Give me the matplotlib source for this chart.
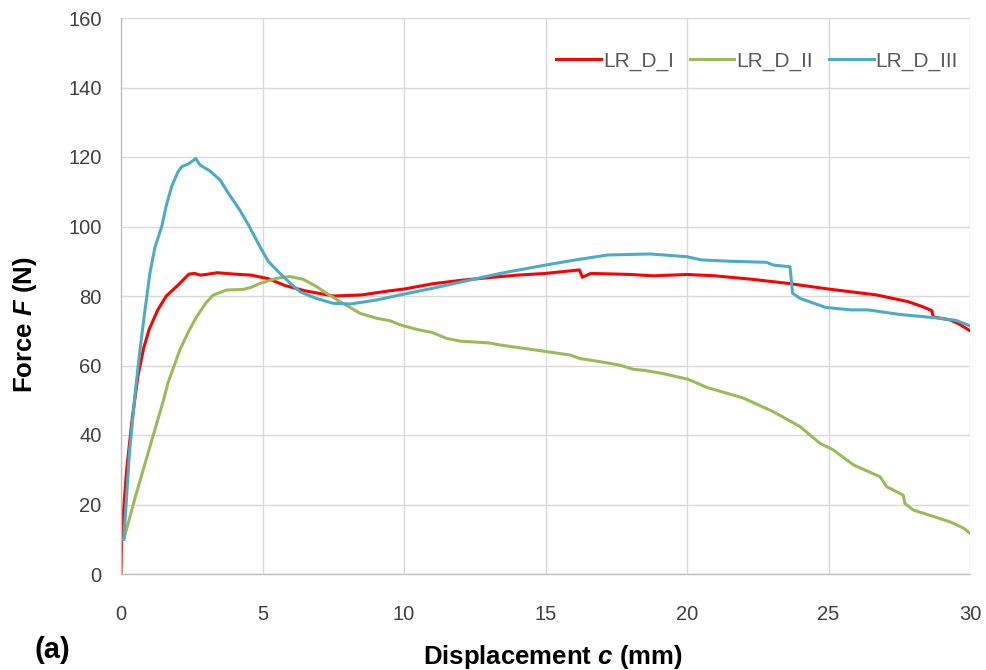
import matplotlib
matplotlib.use("Agg")
from matplotlib import pyplot as plt

# LR_D_I (red)
c_1 = [0, 0.02, 0.05, 0.2, 0.4, 0.6, 0.8, 1.0, 1.3, 1.6, 2.0, 2.4, 2.6, 2.8, 3.0, 3.4, 4.0,
       4.6, 5.2, 5.8, 6.5, 7.5, 8.5, 9.5, 10, 11, 12, 13, 14, 15, 16.2, 16.3, 16.6, 18,
       18.8, 20, 21, 22.3, 23.6, 25, 26, 26.7, 27.8, 28.3, 28.65, 28.7, 29.3, 29.6, 30]
f_1 = [0, 10, 14, 30, 45, 57, 65, 70.5, 76, 80, 83, 86.3, 86.5, 86, 86.2, 86.7, 86.3,
       86, 85, 83, 81.5, 80, 80.3, 81.5, 82, 83.5, 84.5, 85.3, 86, 86.5, 87.5, 85.4, 86.5, 86.2,
       85.8, 86.2, 85.8, 84.8, 83.6, 82, 81, 80.3, 78.4, 77, 75.8, 74, 73.1, 72, 70]

# LR_D_II (green)
c_2 = [0.1, 0.5, 1.0, 1.5, 1.66, 2.08, 2.4, 2.67, 3.0, 3.26, 3.73, 4.32, 4.6, 4.91, 5.5,
       5.97, 6.44, 6.91, 7.3, 7.74, 8.45, 9.03, 9.5, 9.86, 10.5, 11, 11.5, 12, 13, 13.4,
       15.04, 15.87, 16.22, 16.93, 17.63, 18.1, 18.5, 19.2, 20.05, 20.7, 22, 23.05, 24,
       24.7, 25.17, 25.88, 26.82, 27.06, 27.64, 27.7, 28, 29.3, 29.77, 30]
f_2 = [10, 22, 36, 50, 55, 64.5, 70, 74, 78, 80.3, 81.7, 81.9, 82.5, 83.6, 85.1,
       85.6, 84.8, 82.7, 80.6, 78.4, 75, 73.6, 72.9, 71.7, 70.3, 69.5, 67.8, 67, 66.5, 65.9,
       64, 63, 62, 61.1, 60.1, 58.9, 58.6, 57.6, 56, 53.7, 50.6, 46.7, 42.4,
       37.6, 35.7, 31.4, 28, 25.1, 22.7, 20.3, 18.4, 15, 13.2, 11.7]

# LR_D_III (blue)
c_3 = [0.1, 0.3, 0.5, 0.67, 0.85, 1.02, 1.2, 1.44, 1.6, 1.79, 2.0, 2.14, 2.38, 2.55, 2.64,
       2.79, 3.14, 3.5, 3.8, 4.2, 4.5, 4.91, 5.2, 5.62, 6.0, 6.33, 6.9, 7.5, 8.1, 9, 9.86,
       11, 12, 13.4, 15, 16, 17.2, 18.7, 20, 20.5, 21.5, 22.8, 23.05, 23.64, 23.73, 24,
       24.9, 25.8, 26.4, 27.5, 28.7, 29.5, 30]
f_3 = [10, 35, 52, 64.5, 76, 86.5, 94, 100, 106, 111.5, 115.5, 117.2, 118, 119, 119.6,
       117.7, 116, 113.4, 109.5, 104.7, 100.5, 94.2, 90, 86.5, 83.5, 81.2, 79.3, 77.9, 77.7, 78.8, 80.3,
       82.2, 84, 86.5, 88.9, 90.3, 91.8, 92.1, 91.3, 90.4, 90, 89.7, 88.9, 88.4, 80.8, 79.3,
       76.7, 76, 76, 74.7, 73.8, 73, 71.4]

labels = ["LR_D_I", "LR_D_II", "LR_D_III"]
colors = ["#FF0000", "#9BBB59", "#4BACC6"]

plt.rcParams["font.family"] = ["Liberation Sans", "DejaVu Sans"]
plt.rcParams["mathtext.fontset"] = "custom"
plt.rcParams["mathtext.it"] = "Liberation Sans:italic:bold"

fig = plt.figure(figsize=(9.86, 6.7), dpi=100)
ax = fig.add_axes([121 / 986, 1 - 574 / 670, (970 - 121) / 986, (574 - 18) / 670])

for xs, ys, lab, col in zip([c_1, c_2, c_3], [f_1, f_2, f_3], labels, colors):
    ax.plot(xs, ys, color=col, lw=2.2, label=lab, solid_joinstyle="round")

ax.set_xlim(0, 30)
ax.set_ylim(0, 160)
ax.set_xticks(range(0, 31, 5))
ax.set_yticks(range(0, 161, 20))
ax.grid(True, color="#D9D9D9", lw=1.0)
ax.set_axisbelow(True)
for s in ["top", "right"]:
    ax.spines[s].set_visible(False)
for s in ["left", "bottom"]:
    ax.spines[s].set_color("#BFBFBF")
    ax.spines[s].set_linewidth(1.0)
ax.tick_params(length=0, colors="#404040", labelsize=14.5)
ax.tick_params(axis="x", pad=22)
ax.tick_params(axis="y", pad=14)

fig.text(25 / 986, 1 - 325 / 670, r"Force $F$ (N)", fontsize=18.5, fontweight="bold",
         rotation=90, ha="center", va="center")
fig.text(553 / 986, 1 - 657 / 670, r"Displacement $c$ (mm)", fontsize=18.5,
         fontweight="bold", ha="center", va="center")
fig.text(35 / 986, 1 - 650 / 670, "(a)", fontsize=21, fontweight="bold",
         ha="left", va="center")

leg = ax.legend(loc="center right", bbox_to_anchor=((958 - 121) / 849, (574 - 61) / 556),
                ncol=3, frameon=False, fontsize=15, handlelength=2.15, handletextpad=0.1,
                columnspacing=0.75, borderpad=0, borderaxespad=0)
for t in leg.get_texts():
    t.set_color("#595959")

fig.savefig("out.png", dpi=100)
